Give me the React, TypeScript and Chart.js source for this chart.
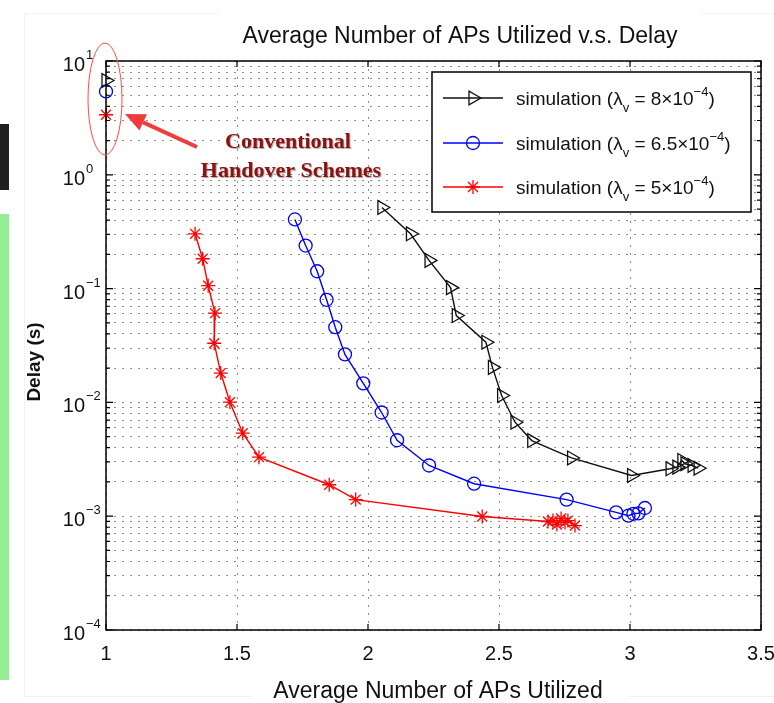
import React, { useEffect, useRef } from 'react';
import { Chart, registerables } from 'chart.js';

Chart.register(...registerables);

// ---------- data ----------
const xTickValues = [1, 1.5, 2, 2.5, 3, 3.5];
const xTickLabels = ['1', '1.5', '2', '2.5', '3', '3.5'];
const yDecades = [-4, -3, -2, -1, 0, 1];

const black8X = [2.053, 2.162, 2.233, 2.315, 2.337, 2.45, 2.475, 2.51, 2.561, 2.625, 2.777, 3.006, 3.153, 3.179, 3.198, 3.21, 3.237, 3.26];
const black8Y = [0.516, 0.303, 0.177, 0.102, 0.058, 0.0338, 0.0203, 0.0115, 0.0067, 0.00462, 0.00325, 0.00228, 0.00261, 0.0027, 0.00309, 0.00289, 0.00279, 0.00264];

const blue65X = [1.721, 1.762, 1.806, 1.842, 1.875, 1.912, 1.982, 2.052, 2.111, 2.233, 2.405, 2.758, 2.947, 2.994, 3.013, 3.032, 3.057];
const blue65Y = [0.405, 0.239, 0.142, 0.0797, 0.0458, 0.0264, 0.0147, 0.00815, 0.00465, 0.00279, 0.00193, 0.0014, 0.00108, 0.00101, 0.00105, 0.00106, 0.00118];

const red5X = [1.34, 1.369, 1.39, 1.416, 1.413, 1.438, 1.473, 1.522, 1.584, 1.852, 1.953, 2.436, 2.687, 2.706, 2.721, 2.737, 2.752, 2.763, 2.79];
const red5Y = [0.303, 0.183, 0.106, 0.0608, 0.0331, 0.0181, 0.01005, 0.00536, 0.0033, 0.00189, 0.0014, 0.000994, 0.000898, 0.000916, 0.000845, 0.000955, 0.000881, 0.000916, 0.000828];

// conventional handover schemes (black, blue, red)
const convX = [1, 1, 1];
const convY = [6.74, 5.4, 3.37];

const seriesLambda = ['8', '6.5', '5'];
const titleText = 'Average Number of APs Utilized v.s. Delay';
const xLabelText = 'Average Number of APs Utilized';
const yLabelText = 'Delay (s)';
const noteLines = ['Conventional', 'Handover Schemes'];

// ---------- styling ----------
const SANS = '"Liberation Sans", Arial, Helvetica, sans-serif';
const SERIF = '"Liberation Serif", "Times New Roman", serif';
const COLORS = ['#111111', '#0000ff', '#ff0000'];
const STYLES = ['triangle', 'circle', 'star'];
const RADII = [8, 6.5, 7];
const ROTS = [90, 0, 0];

function drawMarker(ctx: CanvasRenderingContext2D, kind: string, x: number, y: number, color: string) {
  ctx.save();
  ctx.strokeStyle = color;
  ctx.lineWidth = 1.3;
  ctx.beginPath();
  if (kind === 'triangle') {
    const r = 8;
    ctx.moveTo(x + r, y);
    ctx.lineTo(x - 0.5 * r, y - 0.866 * r);
    ctx.lineTo(x - 0.5 * r, y + 0.866 * r);
    ctx.closePath();
  } else if (kind === 'circle') {
    ctx.arc(x, y, 6.5, 0, Math.PI * 2);
  } else {
    const r = 7;
    for (let k = 0; k < 4; k++) {
      const a = (k * Math.PI) / 4;
      ctx.moveTo(x - Math.cos(a) * r, y - Math.sin(a) * r);
      ctx.lineTo(x + Math.cos(a) * r, y + Math.sin(a) * r);
    }
  }
  ctx.stroke();
  ctx.restore();
}

const decorPlugin = {
  id: 'decor',
  beforeDraw(chart: any) {
    const ctx: CanvasRenderingContext2D = chart.ctx;
    ctx.save();
    ctx.fillStyle = '#ffffff';
    ctx.fillRect(0, 0, chart.width, chart.height);
    // faint screenshot borders
    ctx.strokeStyle = '#f1f1f1';
    ctx.lineWidth = 1;
    ctx.beginPath();
    ctx.moveTo(24, 13.5); ctx.lineTo(218, 13.5);
    ctx.moveTo(702, 13.5); ctx.lineTo(774, 13.5);
    ctx.moveTo(24.5, 13); ctx.lineTo(24.5, 696);
    ctx.moveTo(24, 696.5); ctx.lineTo(252, 696.5);
    ctx.moveTo(630, 696.5); ctx.lineTo(774, 696.5);
    ctx.stroke();
    // left edge artifacts
    ctx.fillStyle = '#1f1f1f';
    ctx.fillRect(0, 124, 9, 66);
    ctx.fillStyle = '#94ef94';
    ctx.fillRect(0, 214, 9, 466);
    ctx.restore();
  },
  afterDatasetsDraw(chart: any) {
    const ctx: CanvasRenderingContext2D = chart.ctx;
    const { left, right, top, bottom } = chart.chartArea;
    const xs = chart.scales.x;
    const ys = chart.scales.y;
    ctx.save();

    // frame
    ctx.strokeStyle = '#000';
    ctx.lineWidth = 1.5;
    ctx.strokeRect(left, top, right - left, bottom - top);

    // x ticks (inward, top and bottom)
    ctx.lineWidth = 1.2;
    ctx.beginPath();
    xTickValues.forEach((v) => {
      const px = xs.getPixelForValue(v);
      ctx.moveTo(px, bottom); ctx.lineTo(px, bottom - 6);
      ctx.moveTo(px, top); ctx.lineTo(px, top + 6);
    });
    // y ticks (major + minor)
    yDecades.forEach((d) => {
      const mults = d === 1 ? [1] : [1, 2, 3, 4, 5, 6, 7, 8, 9];
      mults.forEach((m) => {
        const py = ys.getPixelForValue(m * Math.pow(10, d));
        const len = m === 1 ? 7 : 4;
        ctx.moveTo(left, py); ctx.lineTo(left + len, py);
        ctx.moveTo(right, py); ctx.lineTo(right - len, py);
      });
    });
    ctx.stroke();

    // tick labels
    ctx.fillStyle = '#111';
    ctx.textBaseline = 'alphabetic';
    ctx.font = `20px ${SANS}`;
    ctx.textAlign = 'center';
    xTickValues.forEach((v, i) => {
      ctx.fillText(xTickLabels[i], xs.getPixelForValue(v), 660);
    });
    yDecades.forEach((d) => {
      const py = ys.getPixelForValue(Math.pow(10, d));
      ctx.font = `20px ${SANS}`;
      ctx.textAlign = 'right';
      ctx.fillText('10', 85, py + 10);
      ctx.font = `13px ${SANS}`;
      ctx.textAlign = 'left';
      ctx.fillText(d < 0 ? '\u2212' + Math.abs(d) : String(d), 86, py - 2);
    });

    // title & axis labels
    ctx.font = `23px ${SANS}`;
    ctx.textAlign = 'center';
    ctx.fillText(titleText, 460, 43);
    ctx.fillText(xLabelText, 438, 698);
    ctx.save();
    ctx.translate(40, 362);
    ctx.rotate(-Math.PI / 2);
    ctx.font = `bold 19px ${SANS}`;
    ctx.fillText(yLabelText, 0, 0);
    ctx.restore();

    // legend box
    const lx0 = 432, ly0 = 72, lx1 = 751, ly1 = 212;
    ctx.fillStyle = '#fff';
    ctx.fillRect(lx0, ly0, lx1 - lx0, ly1 - ly0);
    ctx.strokeStyle = '#000';
    ctx.lineWidth = 1.5;
    ctx.strokeRect(lx0, ly0, lx1 - lx0, ly1 - ly0);
    const rows = [98, 143, 187];
    rows.forEach((ry, i) => {
      ctx.strokeStyle = COLORS[i];
      ctx.lineWidth = 1.3;
      ctx.beginPath();
      ctx.moveTo(443, ry); ctx.lineTo(503, ry);
      ctx.stroke();
      drawMarker(ctx, STYLES[i], 473, ry, COLORS[i]);
      ctx.fillStyle = '#111';
      ctx.textAlign = 'left';
      let x = 516;
      const big = `19px ${SANS}`;
      const small = `13px ${SANS}`;
      const seg = (t: string, font: string, y: number) => {
        ctx.font = font;
        ctx.fillText(t, x, y);
        x += ctx.measureText(t).width;
      };
      seg('simulation (\u03bb', big, ry + 7);
      seg('v', small, ry + 14);
      seg(' = ' + seriesLambda[i] + '\u00d710', big, ry + 7);
      seg('\u22124', small, ry - 2);
      seg(')', big, ry + 7);
    });

    // annotation: ellipse, arrow, text
    ctx.strokeStyle = '#ff4a4a';
    ctx.lineWidth = 1;
    ctx.beginPath();
    ctx.ellipse(105, 99, 17, 56, 0, 0, Math.PI * 2);
    ctx.stroke();

    const tail = [197, 147], tip = [125, 114];
    const dx = tip[0] - tail[0], dy = tip[1] - tail[1];
    const L = Math.hypot(dx, dy);
    const ux = dx / L, uy = dy / L;
    const nx = -uy, ny = ux;
    const bx = tip[0] - ux * 20, by = tip[1] - uy * 20;
    ctx.strokeStyle = '#f03c3c';
    ctx.fillStyle = '#f03c3c';
    ctx.lineWidth = 4;
    ctx.beginPath();
    ctx.moveTo(tail[0], tail[1]); ctx.lineTo(bx, by);
    ctx.stroke();
    ctx.beginPath();
    ctx.moveTo(tip[0], tip[1]);
    ctx.lineTo(bx + nx * 9, by + ny * 9);
    ctx.lineTo(bx - nx * 9, by - ny * 9);
    ctx.closePath();
    ctx.fill();

    ctx.font = `bold 22px ${SERIF}`;
    ctx.textAlign = 'center';
    ctx.fillStyle = '#8e1010';
    ctx.shadowColor = 'rgba(0,0,0,0.35)';
    ctx.shadowOffsetX = 1;
    ctx.shadowOffsetY = 1;
    ctx.shadowBlur = 1;
    ctx.fillText(noteLines[0], 288, 148);
    ctx.fillText(noteLines[1], 291, 177);
    ctx.restore();
  },
};

function makeSeries(label: string, xsArr: number[], ysArr: number[], i: number, showLine: boolean) {
  return {
    label,
    data: xsArr.map((x, k) => ({ x, y: ysArr[k] })),
    borderColor: COLORS[i],
    backgroundColor: COLORS[i],
    borderWidth: 1.4,
    pointStyle: STYLES[i],
    pointRadius: RADII[i],
    pointRotation: ROTS[i],
    pointBorderColor: COLORS[i],
    pointBackgroundColor: 'rgba(0,0,0,0)',
    pointBorderWidth: 1.3,
    showLine,
    tension: 0,
    clip: false as const,
  };
}

export default function App() {
  const ref = useRef<HTMLCanvasElement | null>(null);
  useEffect(() => {
    document.body.style.margin = '0';
    const canvas = ref.current;
    if (!canvas) return;
    const yTicks: number[] = [];
    yDecades.forEach((d) => {
      if (d === 1) yTicks.push(10);
      else for (let m = 1; m <= 9; m++) yTicks.push(m * Math.pow(10, d));
    });
    const chart = new Chart(canvas, {
      type: 'line',
      data: {
        datasets: [
          makeSeries('simulation (λv = 8×10^-4)', black8X, black8Y, 0, true),
          makeSeries('simulation (λv = 6.5×10^-4)', blue65X, blue65Y, 1, true),
          makeSeries('simulation (λv = 5×10^-4)', red5X, red5Y, 2, true),
          makeSeries('conventional (8)', [convX[0]], [convY[0]], 0, false),
          makeSeries('conventional (6.5)', [convX[1]], [convY[1]], 1, false),
          makeSeries('conventional (5)', [convX[2]], [convY[2]], 2, false),
        ],
      },
      options: {
        animation: false,
        responsive: false,
        events: [],
        layout: { padding: { left: 106, right: 13, top: 61, bottom: 73 } },
        plugins: { legend: { display: false }, tooltip: { enabled: false }, title: { display: false } },
        scales: {
          x: {
            type: 'linear',
            min: 1,
            max: 3.5,
            ticks: { display: false, stepSize: 0.5 },
            grid: { color: '#8c8c8c', lineWidth: 1, drawTicks: false },
            border: { display: false, dash: [2, 6] },
            afterFit: (s: any) => { s.height = 0; s.paddingLeft = 0; s.paddingRight = 0; },
          },
          y: {
            type: 'logarithmic',
            min: 1e-4,
            max: 10,
            ticks: { display: false },
            afterBuildTicks: (s: any) => { s.ticks = yTicks.map((v) => ({ value: v })); },
            grid: { color: '#8c8c8c', lineWidth: 1, drawTicks: false },
            border: { display: false, dash: [2, 6] },
            afterFit: (s: any) => { s.width = 0; s.paddingTop = 0; s.paddingBottom = 0; },
          },
        },
      },
      plugins: [decorPlugin],
    } as any);
    return () => chart.destroy();
  }, []);
  return (
    <div style={{ position: 'absolute', left: 0, top: 0, width: 774, height: 703 }}>
      <canvas ref={ref} width={774} height={703} style={{ display: 'block' }} />
    </div>
  );
}
